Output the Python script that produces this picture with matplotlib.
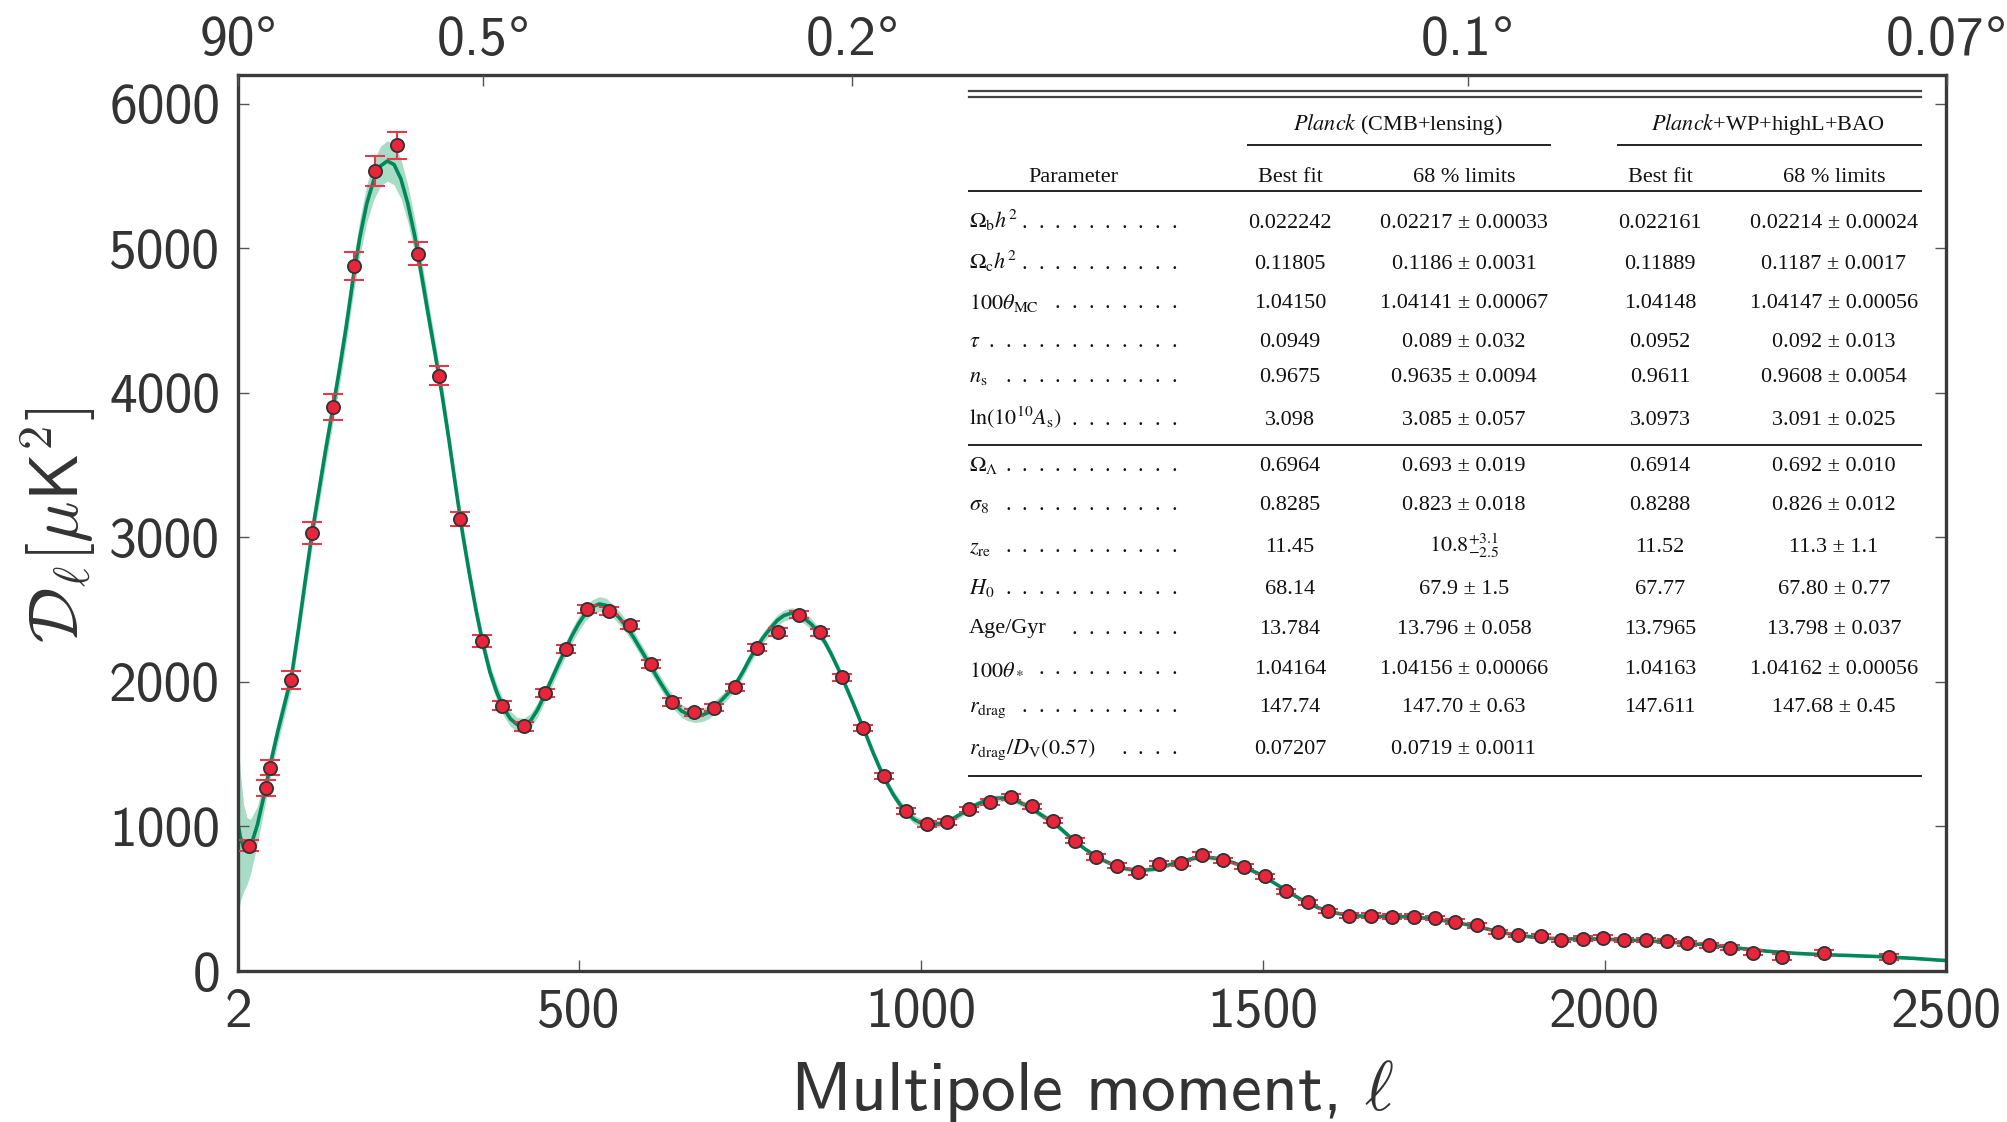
import matplotlib
matplotlib.use("Agg")
import matplotlib.pyplot as plt
from matplotlib.lines import Line2D
from matplotlib.offsetbox import TextArea, HPacker, AnnotationBbox

# ---------------------------------------------------------------- data
# Binned TT band powers: multipole, D_ell [muK^2], 1-sigma error
obs_ell = [18, 42, 48, 79, 110, 141, 172, 202, 234, 265, 296, 327, 358,
           388, 420, 451, 482, 512, 544, 575, 605, 636, 668,
           698, 729, 760, 791, 822, 853, 885, 916, 946, 978,
           1009, 1039, 1070, 1101, 1132, 1163, 1194, 1226, 1256, 1287,
           1318, 1349, 1380, 1411, 1442, 1473, 1504, 1534, 1566, 1596,
           1627, 1658, 1689, 1721, 1752, 1782, 1813, 1844, 1874, 1907,
           1937, 1968, 1998, 2029, 2060, 2091, 2121, 2153, 2184, 2217,
           2260, 2321, 2416]
obs_dl = [868, 1266, 1405, 2014, 3030, 3900, 4877, 5536, 5713, 4962, 4118, 3128, 2283,
          1837, 1693, 1922, 2230, 2506, 2488, 2396, 2125, 1862, 1790,
          1821, 1962, 2237, 2346, 2465, 2345, 2031, 1681, 1352, 1109,
          1016, 1032, 1118, 1170, 1204, 1139, 1041, 903, 789, 730,
          685, 742, 746, 805, 766, 722, 656, 552, 474, 415,
          383, 383, 376, 376, 367, 342, 317, 272, 248, 243,
          215, 224, 231, 215, 215, 208, 192, 178, 162, 127,
          99, 123, 99]
obs_err = [40, 55, 52, 62, 74, 90, 96, 102, 96, 80, 65, 48, 40,
           33, 30, 28, 28, 28, 28, 27, 26, 25, 25,
           25, 25, 25, 25, 25, 24, 23, 22, 21, 20,
           20, 20, 20, 20, 20, 19, 19, 18, 18, 18,
           18, 18, 18, 18, 18, 17, 17, 17, 16, 16,
           16, 16, 16, 16, 16, 16, 16, 15, 15, 15,
           15, 15, 15, 15, 15, 15, 16, 16, 17, 18,
           20, 20, 22]

# Best-fit LCDM spectrum and its cosmic-variance half width
th_ell = ([2, 5, 10, 15, 20]
          + list(range(30, 201, 10))
          + list(range(210, 1201, 10))
          + list(range(1220, 2001, 20))
          + list(range(2040, 2401, 40))
          + [2450, 2500])
th_dl = [1010, 930, 850, 830, 860,
         1010, 1220, 1450, 1660, 1850, 2040, 2360, 2700, 3030, 3320,
         3610, 3880, 4160, 4460, 4790, 5080, 5310, 5470,
         5570, 5605, 5580, 5480, 5310, 5090, 4820, 4540, 4270, 3990,
         3680, 3350, 3030, 2750, 2490, 2260, 2070, 1930, 1820, 1745,
         1705, 1700, 1735, 1810, 1910, 2015, 2120, 2220, 2320, 2405,
         2475, 2520, 2540, 2530, 2490, 2440, 2380, 2310, 2230, 2150,
         2070, 1990, 1915, 1850, 1800, 1775, 1765, 1770, 1790, 1830,
         1880, 1930, 1990, 2070, 2160, 2240, 2310, 2370, 2425, 2460,
         2475, 2470, 2440, 2400, 2345, 2275, 2185, 2085, 1975, 1865,
         1750, 1635, 1515, 1405, 1305, 1220, 1150, 1095, 1050, 1025,
         1015, 1015, 1022, 1038, 1062, 1090, 1120, 1148, 1170, 1185,
         1195, 1197, 1192, 1178, 1155, 1135, 1100, 1068, 1040, 1005,
         920, 845, 782, 738, 708, 695, 705, 730, 760, 780,
         787, 775, 745, 705, 660, 600, 540, 485, 440, 408,
         390, 381, 378, 378, 377, 373, 365, 353, 338, 320,
         300, 278, 258, 243, 233, 226, 223, 222, 222, 220,
         213, 204, 192, 176, 156, 136, 122, 113, 107, 100,
         88, 72]
th_band = ([620, 450, 300, 230, 190,
            130, 100, 85, 80, 80, 80, 85, 88, 92, 96,
            100, 104, 108, 112, 118, 124, 130, 135, 138, 140,
            140, 136, 128, 118, 108, 98, 90, 84, 78, 73,
            69, 66, 63, 60, 58, 56, 54, 52]
           + [50] * 14 + [45] * 16 + [38] * 15 + [30] * 15 + [22] * 20
           + [15] * 15 + [10] * 25 + [7] * 12)

x_ticks = [2, 500, 1000, 1500, 2000, 2500]
x_tick_labels = ["2", "500", "1000", "1500", "2000", "2500"]
y_ticks = [0, 1000, 2000, 3000, 4000, 5000, 6000]
y_tick_labels = ["0", "1000", "2000", "3000", "4000", "5000", "6000"]
angle_ticks = [2, 360, 900, 1800, 2500]
angle_labels = ["90°", "0.5°", "0.2°", "0.1°", "0.07°"]

# Cosmological parameter table
group_titles = [r"$\mathit{Planck}$ (CMB+lensing)", r"$\mathit{Planck}$+WP+highL+BAO"]
col_titles = ["Parameter", "Best fit", "68 % limits", "Best fit", "68 % limits"]
param_names = [r"$\Omega_{\rm b}h^2$", r"$\Omega_{\rm c}h^2$", r"$100\theta_{\rm MC}$",
               r"$\tau$", r"$n_{\rm s}$", r"$\ln(10^{10}A_{\rm s})$",
               r"$\Omega_\Lambda$", r"$\sigma_8$", r"$z_{\rm re}$", r"$H_0$",
               "Age/Gyr", r"$100\theta_*$", r"$r_{\rm drag}$",
               r"$r_{\rm drag}/D_{\rm V}(0.57)$"]
leader_dots = [10, 10, 8, 12, 11, 7, 11, 11, 11, 11, 7, 9, 10, 4]
best_a = ["0.022242", "0.11805", "1.04150", "0.0949", "0.9675", "3.098",
          "0.6964", "0.8285", "11.45", "68.14", "13.784", "1.04164", "147.74", "0.07207"]
lim_a = ["0.02217 ± 0.00033", "0.1186 ± 0.0031", "1.04141 ± 0.00067", "0.089 ± 0.032",
         "0.9635 ± 0.0094", "3.085 ± 0.057", "0.693 ± 0.019", "0.823 ± 0.018",
         r"$10.8^{+3.1}_{-2.5}$", "67.9 ± 1.5", "13.796 ± 0.058", "1.04156 ± 0.00066",
         "147.70 ± 0.63", "0.0719 ± 0.0011"]
best_b = ["0.022161", "0.11889", "1.04148", "0.0952", "0.9611", "3.0973",
          "0.6914", "0.8288", "11.52", "67.77", "13.7965", "1.04163", "147.611", ""]
lim_b = ["0.02214 ± 0.00024", "0.1187 ± 0.0017", "1.04147 ± 0.00056", "0.092 ± 0.013",
         "0.9608 ± 0.0054", "3.091 ± 0.025", "0.692 ± 0.010", "0.826 ± 0.012",
         "11.3 ± 1.1", "67.80 ± 0.77", "13.798 ± 0.037", "1.04162 ± 0.00056",
         "147.68 ± 0.45", ""]

# ---------------------------------------------------------------- style
plt.rcParams["font.family"] = "cmss10"
plt.rcParams["mathtext.fontset"] = "cm"
plt.rcParams["axes.unicode_minus"] = False

W, H = 2008, 1122
INK = "#333333"
fig = plt.figure(figsize=(W / 100, H / 100), dpi=100)
ax = fig.add_axes([238.2 / W, 1 - 971 / H, (1946.5 - 238.2) / W, (971 - 75) / H])

lo = [d - b for d, b in zip(th_dl, th_band)]
hi = [d + b for d, b in zip(th_dl, th_band)]
ax.fill_between(th_ell, lo, hi, color="#a9dcc6", lw=0, zorder=1)
ax.plot(th_ell, th_dl, color="#00885a", lw=2.6, zorder=2, solid_capstyle="round")
ax.errorbar(obs_ell, obs_dl, yerr=obs_err, fmt="none", ecolor="#e8364a",
            elinewidth=1.5, capsize=7, capthick=1.5, zorder=3)
ax.plot(obs_ell, obs_dl, "o", ms=9.5, mfc="#e8253a", mec="#333333", mew=1.3,
        zorder=4, linestyle="none")

ax.set_xlim(2, 2500)
ax.set_ylim(0, 6200)
ax.set_xticks(x_ticks)
ax.set_xticklabels(x_tick_labels)
ax.set_yticks(y_ticks)
ax.set_yticklabels(y_tick_labels)
ax.tick_params(axis="both", direction="in", length=8, width=1.0, color="#555555",
               labelsize=40, labelcolor=INK)
ax.tick_params(axis="y", right=True, pad=13)
ax.tick_params(axis="x", pad=12)
for sp in ax.spines.values():
    sp.set_linewidth(2.4)
    sp.set_color("#3a3a3a")

# Angular scale axis along the top: ticks from a twin axis, labels built from
# a sans number plus a degree sign (cmss10 has no degree glyph)
top = ax.twiny()
top.set_xlim(ax.get_xlim())
top.set_xticks(angle_ticks)
top.tick_params(axis="x", direction="in", length=8, width=1.0, color="#555555",
                labeltop=False)
for sp in top.spines.values():
    sp.set_visible(False)
for pos, lab in zip(angle_ticks, angle_labels):
    num = TextArea(lab[:-1], textprops=dict(family="cmss10", size=40, color=INK))
    deg = TextArea(lab[-1], textprops=dict(family=["Liberation Sans", "DejaVu Sans"],
                                           size=40, color=INK))
    pack = HPacker(children=[num, deg], align="baseline", pad=0, sep=0)
    ab = AnnotationBbox(pack, (pos, 1), xycoords=("data", "axes fraction"),
                        xybox=(0, 6), boxcoords="offset points",
                        box_alignment=(0.5, 0), frameon=False, pad=0,
                        annotation_clip=False)
    ax.add_artist(ab)

fig.text(1092 / W, 1 - 1110 / H, r"Multipole moment, $\ell$", fontsize=50,
         color=INK, ha="center", va="baseline")
fig.text(58 / W, 1 - 525 / H, r"$\mathcal{D}_\ell[\mu\mathsf{K}^2]$", fontsize=50,
         color=INK, ha="center", va="center", rotation=90)

# ---------------------------------------------------------------- table
SERIF = ["Liberation Serif", "DejaVu Serif"]


def ttext(px, py, s, ha="center", size=16):
    fig.text(px / W, 1 - py / H, s, family=SERIF, math_fontfamily="stix",
             fontsize=size, color="#111111", ha=ha, va="baseline")


def rule(x0, x1, py, lw=1.4, color="#222222"):
    fig.add_artist(Line2D([x0 / W, x1 / W], [1 - py / H] * 2,
                          transform=fig.transFigure, color=color, lw=lw))


TL, TR = 969, 1921
rule(TL, TR, 91, lw=1.6, color="#444444")
rule(TL, TR, 97, lw=1.6, color="#444444")
ttext(1398, 130, group_titles[0])
ttext(1768, 130, group_titles[1])
rule(1248, 1550, 145)
rule(1618, TR, 145)

col_x = [1073, 1290, 1464, 1660, 1834]
for cx, title in zip(col_x, col_titles):
    ttext(cx, 182, title)
rule(TL, TR, 191)

row_y = [220, 261.7, 301, 339.3, 375, 417.3, 463.3, 502.7, 545, 586.7, 626, 666, 704.3, 746]
dot_right, dot_pitch = 1174, 16.6
for i, y in enumerate(row_y):
    base = y + 7.5
    ttext(TL, base, param_names[i], ha="left")
    for k in range(leader_dots[i]):
        ttext(dot_right - k * dot_pitch, base, ".")
    for cx, vals in zip(col_x[1:], [best_a, lim_a, best_b, lim_b]):
        if vals[i]:
            ttext(cx, base, vals[i])
rule(TL, TR, 445)
rule(TL, TR, 776)

fig.savefig("out.png", dpi=100)
